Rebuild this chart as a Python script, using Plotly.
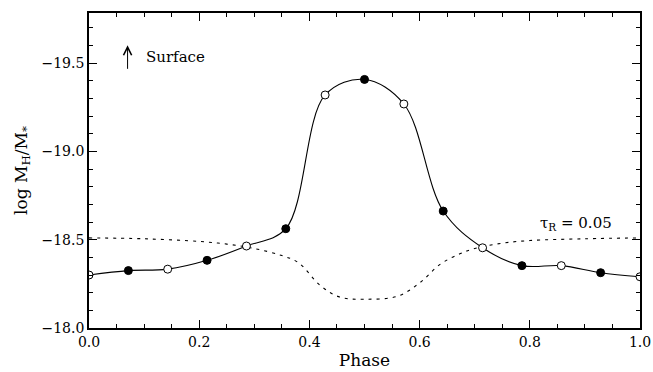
import plotly.graph_objects as go

# Model points (phase, log M_H/M*)
phase = [0.0, 1/14, 2/14, 3/14, 4/14, 5/14, 6/14, 7/14, 8/14, 9/14, 10/14, 11/14, 12/14, 13/14, 1.0]
logmh = [-18.30, -18.325, -18.333, -18.383, -18.464, -18.562, -19.319, -19.407,
         -19.268, -18.662, -18.454, -18.353, -18.353, -18.313, -18.29]
filled = [False, True, False, True, False, True, False, True, False, True, False, True, False, True, False]

# tau_R = 0.05 dashed curve
tau_phase = [0.0, 0.1, 0.2, 0.25, 0.3, 0.35, 0.38, 0.42, 0.455, 0.5, 0.56, 0.6, 0.637, 0.673, 0.7, 0.75, 0.8, 0.9, 1.0]
tau_logmh = [-18.51, -18.505, -18.49, -18.475, -18.45, -18.41, -18.37, -18.24, -18.175, -18.163,
             -18.18, -18.255, -18.36, -18.42, -18.45, -18.48, -18.495, -18.505, -18.51]

FONT = "DejaVu Serif"

fig = go.Figure()
fig.add_trace(go.Scatter(x=phase, y=logmh, mode="lines",
                         line=dict(color="black", width=1.1, shape="spline", smoothing=1.0),
                         hoverinfo="skip", showlegend=False))
fig.add_trace(go.Scatter(x=tau_phase, y=tau_logmh, mode="lines",
                         line=dict(color="black", width=1.1, shape="spline", dash="3px,5px"),
                         hoverinfo="skip", showlegend=False))
fig.add_trace(go.Scatter(x=[p for p, f in zip(phase, filled) if f],
                         y=[v for v, f in zip(logmh, filled) if f], mode="markers",
                         marker=dict(color="black", size=8, line=dict(color="black", width=1)),
                         showlegend=False))
fig.add_trace(go.Scatter(x=[p for p, f in zip(phase, filled) if not f],
                         y=[v for v, f in zip(logmh, filled) if not f], mode="markers",
                         marker=dict(color="white", size=8, line=dict(color="black", width=1)),
                         showlegend=False))

axis_common = dict(showline=True, linecolor="black", linewidth=1.6, mirror="allticks",
                   ticks="inside", ticklen=8, tickcolor="black", tickwidth=1,
                   showgrid=False, zeroline=False, automargin=False,
                   tickfont=dict(family=FONT, size=14, color="black"))

fig.update_xaxes(range=[0, 1], dtick=0.2, tick0=0, tickformat=".1f",
                 minor=dict(dtick=0.05, ticklen=4, ticks="inside", tickcolor="black", showgrid=False),
                 title=dict(text="Phase", font=dict(family=FONT, size=17, color="black"), standoff=6),
                 **axis_common)
fig.update_yaxes(range=[-18.0, -19.783], dtick=0.5, tick0=-18, tickformat=".1f",
                 minor=dict(dtick=0.1, ticklen=4, ticks="inside", tickcolor="black", showgrid=False),
                 title=dict(text="log M<sub>H</sub>/M<sub>*</sub>", font=dict(family=FONT, size=17, color="black"), standoff=10),
                 **axis_common)

# upward arrow ("towards the surface")
fig.add_annotation(x=0.07, y=-19.60, ax=0, ay=25, xref="x", yref="y", text="", showarrow=True,
                   arrowhead=5, arrowsize=1.6, arrowwidth=1, arrowcolor="black")
fig.add_annotation(x=0.1, y=-19.535, xref="x", yref="y", text="Surface", showarrow=False,
                   font=dict(family=FONT, size=15, color="black"), xanchor="left", yanchor="middle")
fig.add_annotation(x=0.815, y=-18.59, xref="x", yref="y", text="τ<sub>R</sub> = 0.05", showarrow=False,
                   font=dict(family=FONT, size=15, color="black"), xanchor="left", yanchor="middle")

fig.update_layout(width=653, height=372, margin=dict(l=89, r=13, t=13, b=44),
                  plot_bgcolor="white", paper_bgcolor="white")

fig.write_html("out.html")
